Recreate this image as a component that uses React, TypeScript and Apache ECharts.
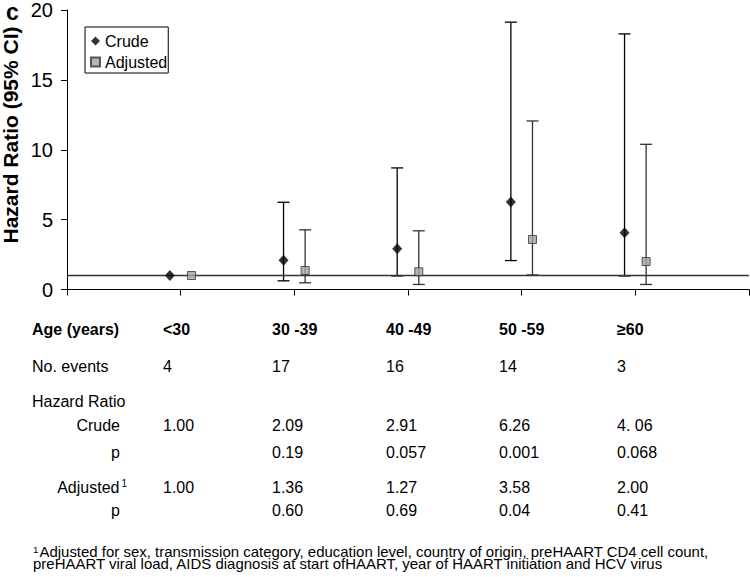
import React, { useEffect, useRef } from "react";
import * as echarts from "echarts";

const ageGroups = ["<30", "30 -39", "40 -49", "50 -59", "≥60"];
const noEvents = ["4", "17", "16", "14", "3"];
const crudeHR = [1.0, 2.09, 2.91, 6.26, 4.06];
const crudeLow = [null, 0.62, 0.97, 2.07, 0.97];
const crudeHigh = [null, 6.24, 8.7, 19.13, 18.29];
const adjHR = [1.0, 1.36, 1.27, 3.58, 2.0];
const adjLow = [null, 0.48, 0.36, 1.04, 0.36];
const adjHigh = [null, 4.27, 4.2, 12.06, 10.39];
const crudeHRText = ["1.00", "2.09", "2.91", "6.26", "4. 06"];
const crudePText = ["", "0.19", "0.057", "0.001", "0.068"];
const adjHRText = ["1.00", "1.36", "1.27", "3.58", "2.00"];
const adjPText = ["", "0.60", "0.69", "0.04", "0.41"];
const footnote1 = "Adjusted for sex, transmission category, education level, country of origin, preHAART CD4 cell count,";
const footnote2 = "preHAART viral load, AIDS diagnosis at start ofHAART, year of HAART initiation and HCV virus";

const FONT = "'Liberation Sans', Arial, sans-serif";
const OFFSET = 0.095;
const colX = [163, 272, 386, 499, 617];

function txt(text: string, x: number, y: number, opts: any = {}) {
  const align = opts.align || "left";
  const style: any = {
    text,
    fill: "#000",
    fontSize: opts.fontSize || 16,
    fontFamily: FONT,
    fontWeight: opts.bold ? "bold" : "normal",
    align,
    textAlign: align,
    verticalAlign: "middle",
    textVerticalAlign: "middle",
  };
  if (opts.rich) style.rich = opts.rich;
  if (opts.lineHeight) style.lineHeight = opts.lineHeight;
  return {
    type: "text",
    x,
    y,
    silent: true,
    rotation: opts.rotation || 0,
    scaleX: opts.scaleX || 1,
    style,
  };
}

export default function App() {
  const ref = useRef<HTMLDivElement>(null);
  useEffect(() => {
    if (!ref.current) return;
    const chart = echarts.init(ref.current, null, { renderer: "svg" });

    const crudePts = crudeHR.map((v, i) => [i + 1 - OFFSET, v]);
    const adjPts = adjHR.map((v, i) => [i + 1 + OFFSET, v]);
    const crudeBars: number[][] = [];
    crudeLow.forEach((lo, i) => {
      if (lo !== null && crudeHigh[i] !== null) crudeBars.push([i + 1 - OFFSET, lo as number, crudeHigh[i] as number]);
    });
    const adjBars: number[][] = [];
    adjLow.forEach((lo, i) => {
      if (lo !== null && adjHigh[i] !== null) adjBars.push([i + 1 + OFFSET, lo as number, adjHigh[i] as number]);
    });

    const makeBarRender = (color: string) => (params: any, api: any) => {
      const x = api.value(0);
      const lo = api.coord([x, api.value(1)]);
      const hi = api.coord([x, api.value(2)]);
      const cap = 6;
      const st = { stroke: color, lineWidth: 1.3 };
      return {
        type: "group",
        children: [
          { type: "line", shape: { x1: lo[0], y1: lo[1], x2: hi[0], y2: hi[1] }, style: st },
          { type: "line", shape: { x1: hi[0] - cap, y1: hi[1], x2: hi[0] + cap, y2: hi[1] }, style: st },
          { type: "line", shape: { x1: lo[0] - cap, y1: lo[1], x2: lo[0] + cap, y2: lo[1] }, style: st },
        ],
      };
    };

    const graphics: any[] = [];
    graphics.push(txt("c", 6, 12, { fontSize: 23, bold: true }));
    graphics.push(txt("Hazard Ratio (95% CI)", 10, 135, { fontSize: 21, bold: true, align: "center", rotation: Math.PI / 2 }));

    // table
    const rowY = { head: 329, events: 366, hr: 401, crude: 425, p1: 452, adj: 487, p2: 510 };
    graphics.push(txt("Age (years)", 32, rowY.head, { bold: true }));
    graphics.push(txt("No. events", 32, rowY.events));
    graphics.push(txt("Hazard Ratio", 32, rowY.hr));
    graphics.push(txt("Crude", 120, rowY.crude, { align: "right" }));
    graphics.push(txt("p", 120, rowY.p1, { align: "right" }));
    graphics.push(
      txt("Adjusted{sup|1}", 127, rowY.adj, {
        align: "right",
        rich: { sup: { fontSize: 10, fontFamily: FONT, fill: "#000", verticalAlign: "top", padding: [0, 0, 8, 2] } },
      })
    );
    graphics.push(txt("p", 120, rowY.p2, { align: "right" }));
    ageGroups.forEach((g, i) => {
      graphics.push(txt(g, colX[i], rowY.head, { bold: true }));
      graphics.push(txt(noEvents[i], colX[i], rowY.events));
      graphics.push(txt(crudeHRText[i], colX[i], rowY.crude));
      if (crudePText[i]) graphics.push(txt(crudePText[i], colX[i], rowY.p1));
      graphics.push(txt(adjHRText[i], colX[i], rowY.adj));
      if (adjPText[i]) graphics.push(txt(adjPText[i], colX[i], rowY.p2));
    });
    graphics.push(
      txt("{sup|1}{t|" + footnote1 + "}\n{t|" + footnote2 + "}", 33, 558, {
        fontSize: 14,
        lineHeight: 12.5,
        scaleX: 1.07,
        rich: {
          sup: { fontSize: 9, fontFamily: FONT, fill: "#000", lineHeight: 12.5, verticalAlign: "top", padding: [0, 1, 0, 0] },
          t: { fontSize: 14, fontFamily: FONT, fill: "#000", lineHeight: 12.5 },
        },
      })
    );

    chart.setOption({
      animation: false,
      backgroundColor: "#fff",
      textStyle: { fontFamily: FONT },
      grid: { left: 67, right: 1, top: 5, bottom: 287.5, containLabel: false },
      legend: {
        left: 85,
        top: 27,
        orient: "vertical",
        borderColor: "#000",
        borderWidth: 1,
        padding: [5, 1, 2, 5],
        itemWidth: 9,
        itemHeight: 9,
        itemGap: 3,
        data: ["Crude", "Adjusted"],
        textStyle: { fontSize: 16, color: "#000", fontFamily: FONT, lineHeight: 18 },
      },
      xAxis: {
        type: "value",
        min: 0,
        max: 6,
        interval: 1,
        axisLine: { show: true, lineStyle: { color: "#000", width: 1 } },
        axisTick: { show: true, inside: false, length: 6, lineStyle: { color: "#000" } },
        axisLabel: { show: false },
        splitLine: { show: false },
      },
      yAxis: {
        type: "value",
        min: 0,
        max: 20,
        interval: 5,
        axisLine: { show: true, lineStyle: { color: "#000", width: 1 } },
        axisTick: { show: true, inside: false, length: 6, lineStyle: { color: "#000" } },
        axisLabel: { fontSize: 20, color: "#000", fontFamily: FONT, margin: 14 },
        splitLine: { show: false },
      },
      series: [
        {
          name: "Crude CI",
          type: "custom",
          renderItem: makeBarRender("#000"),
          data: crudeBars,
          z: 2,
          silent: true,
          markLine: {
            silent: true,
            symbol: "none",
            label: { show: false },
            lineStyle: { color: "#333", width: 1.3, type: "solid" },
            data: [{ yAxis: 1 }],
          },
        },
        {
          name: "Adjusted CI",
          type: "custom",
          renderItem: makeBarRender("#333"),
          data: adjBars,
          z: 2,
          silent: true,
        },
        {
          name: "Crude",
          type: "scatter",
          data: crudePts,
          symbol: "diamond",
          symbolSize: [10, 11],
          itemStyle: { color: "#000" },
          z: 5,
        },
        {
          name: "Adjusted",
          type: "scatter",
          data: adjPts,
          symbol: "rect",
          symbolSize: 8,
          itemStyle: { color: "#a3a3a3", borderColor: "#333", borderWidth: 1 },
          z: 5,
        },
      ],
      graphic: { elements: graphics },
    });
    return () => chart.dispose();
  }, []);
  return <div ref={ref} style={{ position: "fixed", left: 0, top: 0, width: 750, height: 577 }} />;
}
